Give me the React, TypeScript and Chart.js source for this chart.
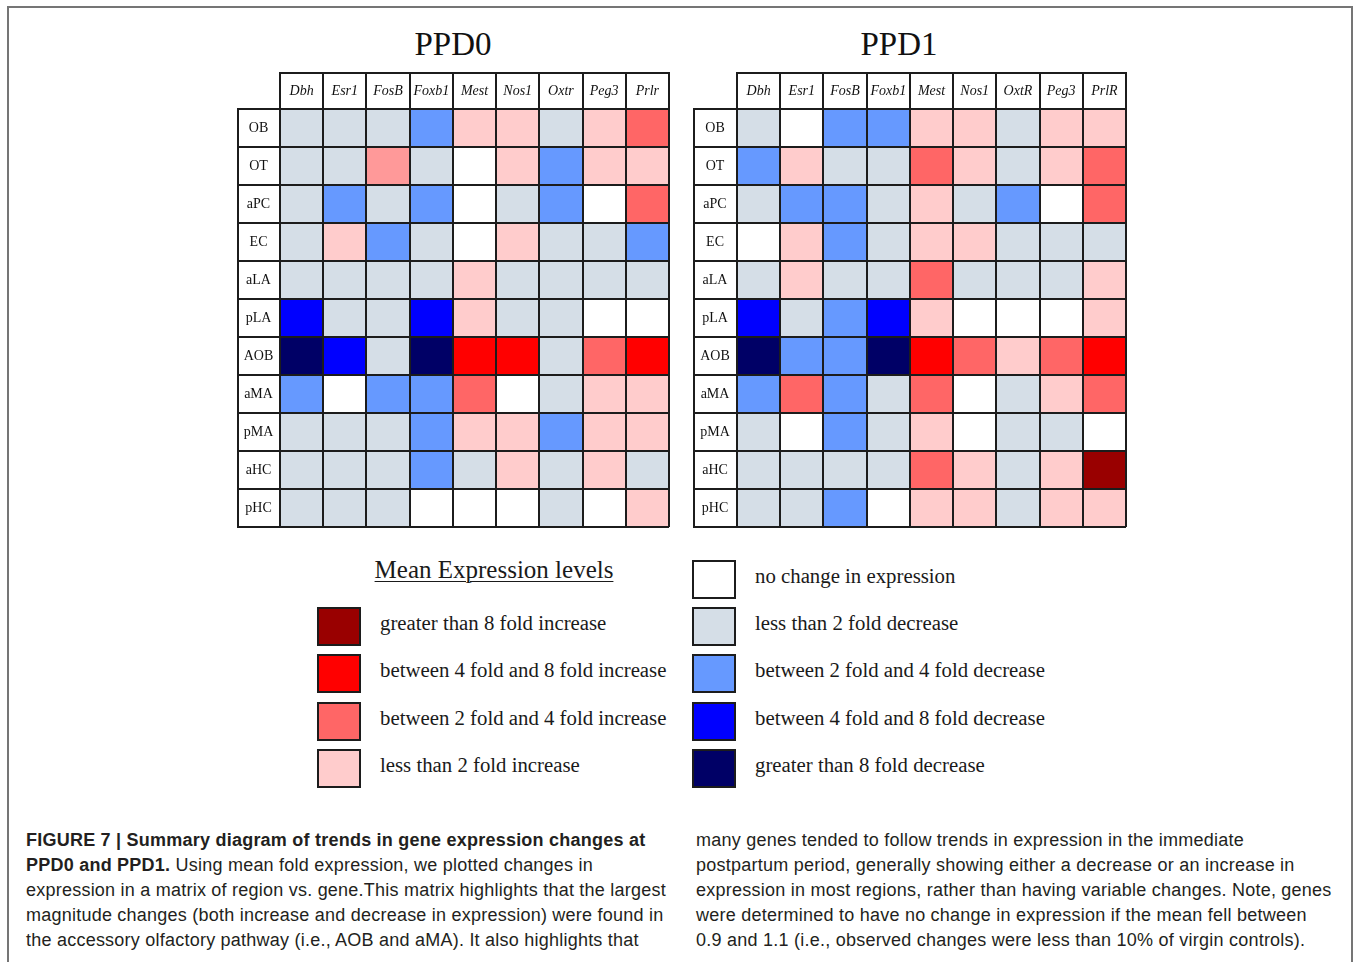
import React, { useEffect, useRef } from "react";
import { Chart, registerables } from "chart.js";

Chart.register(...registerables);

// ---------- data ----------
const regions = ["OB", "OT", "aPC", "EC", "aLA", "pLA", "AOB", "aMA", "pMA", "aHC", "pHC"];
const genesPPD0 = ["Dbh", "Esr1", "FosB", "Foxb1", "Mest", "Nos1", "Oxtr", "Peg3", "Prlr"];
const genesPPD1 = ["Dbh", "Esr1", "FosB", "Foxb1", "Mest", "Nos1", "OxtR", "Peg3", "PrlR"];

// level codes: 4 >8x inc, 3 4–8x inc, 2 2–4x inc, 1 <2x inc, 0 no change,
// -1 <2x dec, -2 2–4x dec, -3 4–8x dec, -4 >8x dec (1.5: lighter salmon cell as drawn)
const levelsPPD0 = [
  [-1, -1, -1, -2, 1, 1, -1, 1, 2], // OB
  [-1, -1, 1.5, -1, 0, 1, -2, 1, 1], // OT
  [-1, -2, -1, -2, 0, -1, -2, 0, 2], // aPC
  [-1, 1, -2, -1, 0, 1, -1, -1, -2], // EC
  [-1, -1, -1, -1, 1, -1, -1, -1, -1], // aLA
  [-3, -1, -1, -3, 1, -1, -1, 0, 0], // pLA
  [-4, -3, -1, -4, 3, 3, -1, 2, 3], // AOB
  [-2, 0, -2, -2, 2, 0, -1, 1, 1], // aMA
  [-1, -1, -1, -2, 1, 1, -2, 1, 1], // pMA
  [-1, -1, -1, -2, -1, 1, -1, 1, -1], // aHC
  [-1, -1, -1, 0, 0, 0, -1, 0, 1], // pHC
];
const levelsPPD1 = [
  [-1, 0, -2, -2, 1, 1, -1, 1, 1], // OB
  [-2, 1, -1, -1, 2, 1, -1, 1, 2], // OT
  [-1, -2, -2, -1, 1, -1, -2, 0, 2], // aPC
  [0, 1, -2, -1, 1, 1, -1, -1, -1], // EC
  [-1, 1, -1, -1, 2, -1, -1, -1, 1], // aLA
  [-3, -1, -2, -3, 1, 0, 0, 0, 1], // pLA
  [-4, -2, -2, -4, 3, 2, 1, 2, 3], // AOB
  [-2, 2, -2, -1, 2, 0, -1, 1, 2], // aMA
  [-1, 0, -2, -1, 1, 0, -1, -1, 0], // pMA
  [-1, -1, -1, -1, 2, 1, -1, 1, 4], // aHC
  [-1, -1, -2, 0, 1, 1, -1, 1, 1], // pHC
];
// every cell spans one unit along the gene axis
const cellSpan = regions.map(() => 1);

const levelColors: Record<string, string> = {
  "4": "#990000",
  "3": "#FF0000",
  "2": "#FF6666",
  "1.5": "#FF9999",
  "1": "#FFCCCC",
  "0": "#FFFFFF",
  "-1": "#D5DEE7",
  "-2": "#6699FF",
  "-3": "#0000FF",
  "-4": "#000066",
};

const legendIncreaseLevels = [4, 3, 2, 1];
const legendIncreaseLabels = [
  "greater than 8 fold increase",
  "between 4 fold and 8 fold increase",
  "between 2 fold and 4 fold increase",
  "less than 2 fold increase",
];
const legendDecreaseLevels = [0, -1, -2, -3, -4];
const legendDecreaseLabels = [
  "no change in expression",
  "less than 2 fold decrease",
  "between 2 fold and 4 fold decrease",
  "between 4 fold and 8 fold decrease",
  "greater than 8 fold decrease",
];

const captionLeft = [
  [{ b: true, t: "FIGURE 7 | Summary diagram of trends in gene expression changes at" }],
  [{ b: true, t: "PPD0 and PPD1." }, { b: false, t: " Using mean fold expression, we plotted changes in" }],
  [{ b: false, t: "expression in a matrix of region vs. gene.This matrix highlights that the largest" }],
  [{ b: false, t: "magnitude changes (both increase and decrease in expression) were found in" }],
  [{ b: false, t: "the accessory olfactory pathway (i.e., AOB and aMA). It also highlights that" }],
];
const captionRight = [
  "many genes tended to follow trends in expression in the immediate",
  "postpartum period, generally showing either a decrease or an increase in",
  "expression in most regions, rather than having variable changes. Note, genes",
  "were determined to have no change in expression if the mean fell between",
  "0.9 and 1.1 (i.e., observed changes were less than 10% of virgin controls).",
];

// ---------- styles ----------
const SERIF = '"Liberation Serif", "Times New Roman", serif';
const SANS = '"Liberation Sans", Arial, sans-serif';
const LINE = "#1c1c1c";

type HeatProps = {
  genes: string[];
  levels: number[][];
  left: number;
  top: number;
  width: number;
  height: number;
  yw: number;
  pad: { left: number; right: number; top: number; bottom: number };
};

function Heatmap({ genes, levels, left, top, width, height, yw, pad }: HeatProps) {
  const ref = useRef<HTMLCanvasElement>(null);
  useEffect(() => {
    if (!ref.current) return;
    const datasets = genes.map((g, gi) => ({
      label: g,
      data: cellSpan,
      backgroundColor: levels.map((row) => levelColors[String(row[gi])]),
      borderWidth: 0,
      barPercentage: 1,
      categoryPercentage: 1,
    }));
    const edges = {
      id: "edges",
      afterDraw(chart: any) {
        const { ctx, chartArea } = chart;
        const ys = chart.scales.y;
        const xs = chart.scales.x2;
        ctx.save();
        ctx.strokeStyle = LINE;
        ctx.lineWidth = 2;
        ctx.beginPath();
        ctx.moveTo(Math.round(ys.left) + 1, chartArea.top - 1);
        ctx.lineTo(Math.round(ys.left) + 1, chartArea.bottom + 1);
        ctx.moveTo(chartArea.left - 1, Math.round(xs.top) + 1);
        ctx.lineTo(chartArea.right + 1, Math.round(xs.top) + 1);
        ctx.stroke();
        ctx.restore();
      },
    };
    const chart = new Chart(ref.current, {
      type: "bar",
      data: { labels: regions, datasets: datasets as any },
      options: {
        indexAxis: "y",
        animation: false,
        responsive: false,
        maintainAspectRatio: false,
        layout: { padding: pad },
        plugins: {
          legend: { display: false },
          tooltip: { enabled: false },
          title: { display: false },
        },
        scales: {
          x: { type: "linear", stacked: true, min: 0, max: genes.length, display: false },
          x2: {
            type: "category",
            position: "top",
            labels: genes,
            offset: true,
            grid: { offset: true, color: LINE, lineWidth: 2, tickLength: 37, drawTicks: true, z: 1 },
            border: { display: false },
            ticks: {
              font: { family: SERIF, size: 14, style: "italic" },
              color: "#111",
              padding: -27.4,
              maxRotation: 0,
              autoSkip: false,
              z: 2,
            },
            afterFit: (s: any) => {
              s.height = 37;
            },
          } as any,
          y: {
            type: "category",
            stacked: true,
            offset: true,
            grid: { offset: true, color: LINE, lineWidth: 2, tickLength: yw, drawTicks: true, z: 1 },
            border: { display: false },
            ticks: {
              font: { family: SERIF, size: 14 },
              color: "#111",
              crossAlign: "center",
              padding: -yw / 2 - 14.8,
              autoSkip: false,
              z: 2,
            },
            afterFit: (s: any) => {
              s.width = yw;
            },
          } as any,
        },
      },
      plugins: [edges],
    });
    return () => chart.destroy();
  }, []);
  return (
    <canvas
      ref={ref}
      width={width}
      height={height}
      style={{ position: "absolute", left, top, width, height }}
    />
  );
}

function Swatch({ level, left, top, label }: { level: number; left: number; top: number; label: string }) {
  return (
    <div
      style={{
        position: "absolute",
        left,
        top,
        height: 39,
        display: "flex",
        alignItems: "center",
        whiteSpace: "nowrap",
      }}
    >
      <div
        style={{
          width: 44,
          height: 39,
          boxSizing: "border-box",
          border: `2px solid ${LINE}`,
          background: levelColors[String(level)],
        }}
      />
      <div
        style={{
          marginLeft: 19,
          fontFamily: SERIF,
          fontSize: 20.8,
          color: "#1a1a1a",
          lineHeight: "24px",
          marginTop: -7,
        }}
      >
        {label}
      </div>
    </div>
  );
}

export default function App() {
  const leftTops = [607, 654, 702, 749];
  const rightTops = [560, 607, 654, 702, 749];
  return (
    <div
      style={{
        position: "absolute",
        left: 0,
        top: 0,
        width: 1355,
        height: 962,
        overflow: "hidden",
        background: "#fff",
      }}
    >
      {/* frame */}
      <div
        style={{
          position: "absolute",
          left: 7,
          top: 6,
          width: 1346,
          height: 1000,
          boxSizing: "border-box",
          border: "2px solid #757575",
        }}
      />
      {/* panel titles */}
      <div
        style={{
          position: "absolute",
          left: 353,
          width: 200,
          top: 28,
          textAlign: "center",
          fontFamily: SERIF,
          fontSize: 33,
          lineHeight: "33px",
          color: "#111",
        }}
      >
        PPD0
      </div>
      <div
        style={{
          position: "absolute",
          left: 799,
          width: 200,
          top: 28,
          textAlign: "center",
          fontFamily: SERIF,
          fontSize: 33,
          lineHeight: "33px",
          color: "#111",
        }}
      >
        PPD1
      </div>

      <Heatmap
        genes={genesPPD0}
        levels={levelsPPD0}
        left={230}
        top={60}
        width={450}
        height={480}
        yw={43}
        pad={{ left: 7, right: 11, top: 12, bottom: 13 }}
      />
      <Heatmap
        genes={genesPPD1}
        levels={levelsPPD1}
        left={686}
        top={60}
        width={450}
        height={480}
        yw={44}
        pad={{ left: 7, right: 10, top: 12, bottom: 13 }}
      />

      {/* legend */}
      <div
        style={{
          position: "absolute",
          left: 344,
          width: 300,
          top: 557,
          textAlign: "center",
          fontFamily: SERIF,
          fontSize: 25,
          lineHeight: "25px",
          color: "#1a1a1a",
          textDecoration: "underline",
          textUnderlineOffset: 3,
          textDecorationThickness: 1,
          whiteSpace: "nowrap",
        }}
      >
        Mean Expression levels
      </div>
      {legendIncreaseLevels.map((lv, i) => (
        <Swatch key={"i" + i} level={lv} left={317} top={leftTops[i]} label={legendIncreaseLabels[i]} />
      ))}
      {legendDecreaseLevels.map((lv, i) => (
        <Swatch key={"d" + i} level={lv} left={692} top={rightTops[i]} label={legendDecreaseLabels[i]} />
      ))}

      {/* caption */}
      <div
        style={{
          position: "absolute",
          left: 26,
          top: 828,
          fontFamily: SANS,
          fontSize: 18,
          lineHeight: "25px",
          color: "#231f20",
          whiteSpace: "nowrap",
          letterSpacing: 0.23,
        }}
      >
        {captionLeft.map((line, i) => (
          <div key={i}>
            {line.map((seg, j) => (
              <span key={j} style={{ fontWeight: seg.b ? 700 : 400 }}>
                {seg.t}
              </span>
            ))}
          </div>
        ))}
      </div>
      <div
        style={{
          position: "absolute",
          left: 696,
          top: 828,
          fontFamily: SANS,
          fontSize: 18,
          lineHeight: "25px",
          color: "#231f20",
          whiteSpace: "nowrap",
          letterSpacing: 0.24,
        }}
      >
        {captionRight.map((t, i) => (
          <div key={i}>{t}</div>
        ))}
      </div>
    </div>
  );
}
